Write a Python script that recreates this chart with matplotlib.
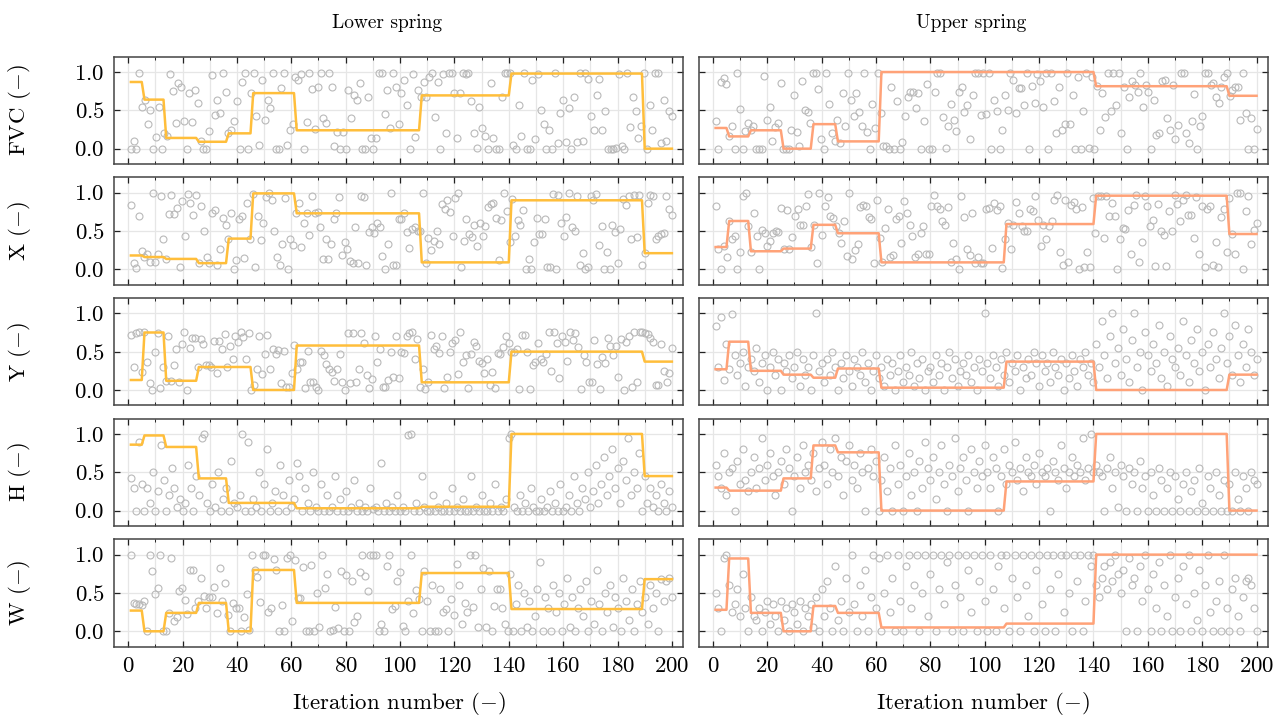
import numpy as np
import matplotlib
matplotlib.use("Agg")
import matplotlib.pyplot as plt
from matplotlib.ticker import MultipleLocator

plt.rcParams['font.family'] = ['cmr10']
plt.rcParams['mathtext.fontset'] = 'cm'
plt.rcParams['axes.unicode_minus'] = False
plt.rcParams['axes.formatter.use_mathtext'] = True

# --> step lines: iterations per segment and level of each segment
seg_len = [5, 8, 12, 11, 9, 16, 46, 33, 49, 11]

rows = ["FVC", "X", "Y", "H", "W"]
cols = ["Lower spring", "Upper spring"]

lvl_fvc_low = [0.87, 0.64, 0.14, 0.09, 0.2, 0.725, 0.24, 0.695, 0.98, 0.0]
lvl_fvc_up = [0.27, 0.16, 0.24, 0.0, 0.32, 0.095, 1.0, 1.0, 0.815, 0.69]
lvl_x_low = [0.18, 0.16, 0.135, 0.08, 0.4, 0.99, 0.73, 0.09, 0.9, 0.21]
lvl_x_up = [0.29, 0.63, 0.235, 0.27, 0.58, 0.47, 0.09, 0.59, 0.96, 0.46]
lvl_y_low = [0.13, 0.75, 0.12, 0.3, 0.3, 0.0, 0.58, 0.1, 0.5, 0.37]
lvl_y_up = [0.27, 0.63, 0.25, 0.2, 0.16, 0.28, 0.03, 0.37, 0.0, 0.2]
lvl_h_low = [0.86, 0.98, 0.83, 0.42, 0.1, 0.1, 0.03, 0.05, 1.0, 0.45]
lvl_h_up = [0.3, 0.26, 0.26, 0.42, 0.85, 0.76, 0.0, 0.38, 1.0, 0.0]
lvl_w_low = [0.27, 0.0, 0.24, 0.37, 0.0, 0.8, 0.37, 0.76, 0.29, 0.68]
lvl_w_up = [0.28, 0.95, 0.24, 0.0, 0.33, 0.24, 0.05, 0.1, 1.0, 1.0]

# --> sampled points (one per iteration, left to right)
pts_fvc_low = [0, 0.1, 0, 0.99, 0.55, 0.63, 0.32, 0.51, 0, 0.15, 0.54, 0, 0.2, 0.16, 0.97, 0.75, 0.33, 0.86, 0.8, 0.36,
               0, 0.73, 0.35, 0.77, 0.6, 0.1, 0, 0, 0.23, 0.96, 0.44, 0.64, 0.47, 0.99, 0.74, 0.2, 0.24, 0.36, 0.62, 0,
               0.87, 0.99, 0, 0.73, 0.99, 0.42, 0.05, 0.9, 0.37, 0.64, 0.53, 0.99, 0, 0, 0.79, 0.99, 0.05, 0.24, 0.32,
               0.94, 0.9, 0.97, 0, 0.35, 0.99, 0.78, 0.26, 0.81, 0.99, 0.4, 0.34, 0.99, 0.8, 0.03, 0.22, 0, 0.22, 0, 0.77,
               0.4, 0.7, 0.64, 0.86, 0, 0, 0.68, 0.14, 0, 0.14, 0.99, 0.99, 0.45, 0.76, 0.27, 0.99, 0.8, 0.32, 0.73, 0.89,
               0.57, 0, 0.97, 0.15, 0.76, 0.67, 0.87, 0.67, 0.94, 0.99, 0.41, 0.87, 0, 0.98, 0.21, 0.99, 0.99, 0.73,
               0.14, 0.73, 0.99, 0.97, 0.99, 0.62, 0.21, 0.01, 0.54, 0.27, 0.17, 0, 0.86, 0.14, 0, 0, 0.67, 0.99, 0.99,
               0.99, 0.05, 0, 0.57, 0.16, 0.99, 0, 0, 0.9, 0.13, 0.97, 0.51, 0.32, 0, 0.25, 0, 0.99, 0.07, 0.47, 0.63,
               0.09, 0.53, 0, 0.68, 0.09, 0.99, 0.1, 0.99, 0.91, 0.43, 0.25, 0.7, 0.91, 0.25, 0.49, 0, 0, 0, 0.01, 0.97,
               0.03, 0, 0.99, 0.28, 0.68, 0.49, 0.14, 0.29, 0.99, 0, 0.57, 0.24, 0.99, 0.99, 0.07, 0.64, 0.1, 0.49, 0.42]
pts_fvc_up = [0.36, 0, 0.87, 0.92, 0.84, 0.16, 0.29, 0, 0.99, 0.52, 0, 0.23, 0.33, 0.25, 0.3, 0, 0, 0, 0.95, 0.38,
              0.55, 0.1, 0.28, 0.33, 0.86, 0, 0, 0, 0.25, 0.7, 0.22, 0.04, 0.88, 0.5, 0.48, 0.33, 0.99, 0.99, 0.78, 0.12,
              0, 0.99, 0.58, 0.2, 0.1, 0.38, 0.08, 0.73, 0.3, 0.99, 0.64, 0.42, 0.73, 0.48, 0.29, 0.99, 0.22, 0, 0.58,
              0.27, 0.99, 0.46, 0.04, 0.04, 0, 0.8, 0, 0.62, 0, 0.09, 0.42, 0.67, 0.74, 0.74, 0.53, 0.73, 0, 0.36, 0.84,
              0, 0, 0.74, 0.99, 0.99, 0.41, 0.01, 0.3, 0.58, 0.38, 0.23, 0.74, 0.8, 0.48, 0.57, 0.13, 0.7, 0.99, 0.99,
              0.44, 0.99, 0.45, 0.99, 0, 0.64, 0.49, 0, 0.25, 0.7, 0.51, 0.99, 0.9, 0.47, 0.79, 0.79, 0.57, 0.99, 0,
              0.82, 0.59, 0.97, 0.88, 0.54, 0.99, 0, 0.99, 0.62, 0.2, 0.81, 0.25, 0.32, 0.99, 0.32, 0.7, 0, 0.93, 0,
              0.49, 0.99, 0.01, 0.93, 0, 0.82, 0.25, 0.73, 0.41, 0.99, 0.49, 0.99, 0.57, 0.99, 0.2, 0.8, 0, 0.68, 0.88,
              0.83, 0.74, 0.99, 0.55, 0.83, 0.74, 0, 0.64, 0.18, 0.21, 0.88, 0.9, 0.4, 0.25, 0.83, 0.13, 0.31, 0.99,
              0.99, 0.2, 0.08, 0.36, 0.71, 0, 0.3, 0.43, 0.99, 0.99, 0.83, 0.86, 0.67, 0.6, 0.8, 0.93, 0.99, 0.69, 0.77,
              0.8, 0.8, 0.38, 0.99, 0.47, 0, 0.4, 0, 0.26]
pts_x_low = [0.84, 0.08, 0.02, 0.7, 0.24, 0.16, 0.2, 0.09, 1.0, 0.09, 0.2, 0.95, 0.4, 0.14, 0.72, 0.97, 0.72, 0.8, 0.03,
             0.89, 0.44, 0.98, 0.86, 0.71, 0.97, 0.08, 0.83, 0.5, 0.16, 0.08, 0.73, 0.77, 0.05, 0.26, 0.67, 0.58, 0.4,
             0.73, 0.0, 0.12, 0.66, 0.7, 0.15, 0.86, 0.39, 0.98, 0.03, 0.7, 0.38, 0.61, 0.94, 1.0, 0.91, 0.5, 0.16, 0.05,
             0.33, 0.93, 0.0, 0.4, 0.32, 0.73, 0.86, 0.29, 0.6, 0.73, 0.45, 0.96, 0.74, 0.75, 0.55, 0.13, 0.39, 0.13,
             0.33, 0.66, 0.73, 0.94, 0.19, 0.36, 0.27, 0.11, 0.08, 0.55, 0.08, 0.96, 0.94, 0.05, 0.48, 0.55, 0.47, 0.61,
             0.55, 0.17, 0.0, 0.33, 1.0, 0.05, 0.05, 0.66, 0.65, 0.73, 0.49, 0.28, 0.53, 0.55, 0.5, 0.5, 1.0, 0.08,
             0.41, 0.25, 0.37, 0.5, 0.33, 0.85, 0.78, 0.91, 0.75, 0.43, 0.93, 1.0, 0.03, 0.37, 0.65, 0.46, 0.42, 0.58,
             0.3, 0.6, 0.44, 0.57, 0.81, 0.85, 0.86, 0.67, 0.12, 0.64, 1.0, 0.76, 0.35, 0.92, 0.43, 0.64, 0.58, 0.77,
             0.0, 0.13, 0.0, 0.36, 0.67, 0.46, 0.46, 0.66, 0.03, 0.03, 0.98, 0.0, 0.97, 0.61, 0.43, 0.68, 1.0, 0.55,
             0.5, 0.96, 0.05, 0.21, 0.0, 0.03, 0.95, 0.9, 0.98, 0.32, 0.57, 0.0, 0.23, 0.0, 0.58, 0.49, 0.08, 0.53, 0.92,
             0.84, 0.95, 0.4, 0.97, 0.42, 0.97, 0.05, 0.21, 0.87, 0.97, 0.95, 0.4, 0.43, 0.46, 0.47, 0.95, 0.79, 0.71]
pts_x_up = [0.83, 0.27, 0.0, 0.31, 0.16, 0.63, 0.39, 0.43, 0.0, 0.23, 0.95, 1.0, 0.57, 0.23, 0.73, 0.43, 0.0, 0.51, 0.47,
            0.3, 0.37, 0.47, 0.5, 0.48, 0.8, 0.27, 0.77, 0.27, 0.42, 0.7, 0.78, 0.58, 0.58, 0.83, 0.98, 0.29, 0.58, 0.08,
            1.0, 0.45, 0.83, 0.94, 0.69, 0.67, 0.56, 0.47, 0.34, 0.63, 0.17, 0.99, 0.14, 0.25, 0.33, 0.81, 0.84, 0.83,
            0.68, 0.66, 0.08, 0.9, 0.41, 0.09, 0.54, 0.79, 0.16, 0.18, 0.65, 0.69, 0.34, 0.89, 0.74, 0.58, 0.43, 0.16,
            0.2, 0.47, 0.56, 0.2, 0.2, 0.83, 0.97, 0.83, 0.78, 0.63, 0.58, 0.81, 0.1, 0.34, 0.14, 0.0, 0.96, 0.68, 0.26,
            0.19, 0.73, 0.08, 0.16, 0.08, 0.08, 0.79, 0.8, 0.28, 0.86, 0.77, 0.83, 0.02, 0.39, 0.6, 0.27, 0.58, 0.88,
            0.73, 0.57, 0.5, 0.5, 0.78, 0.76, 0.96, 0.64, 0.3, 0.58, 0.39, 0.57, 0.63, 0.9, 0.97, 0.23, 0.06, 0.9, 0.1,
            0.84, 0.88, 0.78, 0.0, 0.81, 0.03, 0.22, 0.03, 0.93, 0.47, 0.95, 0.96, 0.41, 0.96, 0.69, 0.87, 0.69, 0.0,
            0.4, 0.54, 0.52, 0.77, 0.2, 0.84, 0.97, 0.1, 0.35, 0.95, 0.83, 0.56, 0.64, 0.04, 0.85, 0.5, 0.45, 0.04,
            0.76, 0.5, 0.97, 0.85, 0.63, 0.9, 0.97, 0.71, 0.71, 0.41, 0.94, 0.2, 0.82, 0.03, 0.79, 0.82, 0.05, 0.35,
            0.03, 0.68, 0.79, 0.23, 0.93, 0.46, 0.2, 1.0, 1.0, 0.0, 0.76, 0.95, 0.33, 0.51, 0.6]
pts_y_low = [0.72, 0.3, 0.74, 0.75, 0.24, 0.75, 0.37, 0.09, 0.0, 0.5, 0.74, 0.03, 0.3, 0.12, 0.7, 0.12, 0.32, 0.53,
             0.11, 0.6, 0.75, 0.0, 0.55, 0.68, 0.68, 0.3, 0.67, 0.6, 0.33, 0.32, 0.3, 0.64, 0.22, 0.64, 0.54, 0.73, 0.3,
             0.58, 0.4, 0.71, 0.63, 0.75, 0.69, 0.4, 0.74, 0.0, 0.07, 0.27, 0.71, 0.21, 0.47, 0.72, 0.28, 0.54, 0.47,
             0.52, 0.09, 0.51, 0.04, 0.04, 0.22, 0.59, 0.27, 0.36, 0.37, 0.02, 0.51, 0.11, 0.11, 0.04, 0.0, 0.51, 0.45,
             0.34, 0.27, 0.23, 0.12, 0.28, 0.47, 0.1, 0.0, 0.74, 0.09, 0.74, 0.11, 0.27, 0.74, 0.61, 0.19, 0.03, 0.14,
             0.7, 0.37, 0.53, 0.04, 0.04, 0.13, 0.5, 0.17, 0.7, 0.15, 0.49, 0.48, 0.71, 0.74, 0.75, 0.4, 0.67, 0.04,
             0.27, 0.01, 0.11, 0.72, 0.54, 0.57, 0.48, 0.71, 0.03, 0.17, 0.5, 0.61, 0.65, 0.21, 0.75, 0.37, 0.46, 0.02,
             0.47, 0.62, 0.57, 0.38, 0.35, 0.22, 0.41, 0.07, 0.23, 0.02, 0.48, 0.47, 0.56, 0.7, 0.61, 0.5, 0.5, 0.53,
             0.01, 0.72, 0.72, 0.49, 0.01, 0.33, 0.37, 0.61, 0.41, 0.37, 0.47, 0.75, 0.25, 0.75, 0.61, 0.15, 0.7, 0.62,
             0.38, 0.75, 0.65, 0.74, 0.56, 0.01, 0.46, 0.37, 0.1, 0.1, 0.65, 0.34, 0.01, 0.43, 0.35, 0.68, 0.57, 0.46,
             0.57, 0.17, 0.67, 0.0, 0.63, 0.71, 0.04, 0.75, 0.11, 0.75, 0.75, 0.74, 0.73, 0.68, 0.62, 0.06, 0.07, 0.6,
             0.25, 0.1, 0.22, 0.55]
pts_y_up = [0.84, 0.3, 0.95, 0.13, 0.6, 0.27, 0.99, 0.45, 0.2, 0.35, 0.5, 0.05, 0.3, 0.4, 0.25, 0.55, 0.1, 0.35, 0.45, 0.0,
            0.3, 0.5, 0.2, 0.4, 0.0, 0.35, 0.25, 0.45, 0.15, 0.3, 0.5, 0.05, 0.4, 0.2, 0.3, 0.0, 0.45, 1.0, 0.25, 0.35,
            0.1, 0.4, 0.2, 0.5, 0.3, 0.0, 0.35, 0.15, 0.45, 0.25, 0.05, 0.4, 0.3, 0.2, 0.5, 0.1, 0.35, 0.0, 0.25, 0.45,
            0.15, 0.3, 0.05, 0.4, 0.2, 0.35, 0.0, 0.25, 0.45, 0.1, 0.3, 0.2, 0.5, 0.05, 0.35, 0.15, 0.4, 0.0, 0.25, 0.3,
            0.1, 0.45, 0.2, 0.35, 0.0, 0.3, 0.5, 0.15, 0.4, 0.05, 0.25, 0.35, 0.2, 0.45, 0.1, 0.3, 0.0, 0.4, 0.25, 1.0,
            0.35, 0.15, 0.45, 0.3, 0.05, 0.4, 0.2, 0.5, 0.1, 0.35, 0.25, 0.45, 0.0, 0.3, 0.15, 0.4, 0.2, 0.5, 0.35, 0.05,
            0.45, 0.25, 0.35, 0.1, 0.5, 0.3, 0.2, 0.4, 0.0, 0.35, 0.15, 0.45, 0.25, 0.05, 0.4, 0.3, 0.5, 0.2, 0.35, 0.1,
            0.6, 0.3, 0.9, 0.45, 0.15, 0.7, 1.0, 0.35, 0.55, 0.2, 0.8, 0.4, 0.1, 0.65, 1.0, 0.3, 0.5, 0.0, 0.75, 0.45,
            0.25, 0.6, 0.35, 0.85, 0.15, 0.5, 0.05, 0.7, 0.4, 0.3, 0.55, 0.2, 0.9, 0.45, 0.1, 0.65, 0.35, 0.8, 0.25, 0.5,
            0.0, 0.6, 0.3, 0.75, 0.4, 0.15, 0.55, 1.0, 0.35, 0.7, 0.2, 0.85, 0.45, 0.1, 0.6, 0.3, 0.8, 0.5, 0.2, 0.4]
pts_h_low = [0.43, 0.3, 0.0, 0.9, 0.35, 0.0, 0.3, 0.1, 0.5, 0.0, 0.25, 0.85, 0.4, 0.0, 0.2, 0.55, 0.3, 0.05, 0.15, 0.0,
             0.1, 0.6, 0.3, 0.0, 0.45, 0.2, 0.95, 1.0, 0.1, 0.0, 0.35, 0.05, 0.5, 0.0, 0.15, 0.3, 0.0, 0.65, 0.1, 0.05,
             0.2, 1.0, 0.0, 0.9, 0.0, 0.15, 0.05, 0.5, 0.0, 0.35, 0.8, 0.0, 0.1, 0.25, 0.0, 0.6, 0.2, 0.0, 0.4, 0.05,
             0.15, 0.62, 0.45, 0.0, 0.3, 0.1, 0.0, 0.5, 0.05, 0.0, 0.35, 0.0, 0.2, 0.0, 0.05, 0.45, 0.0, 0.15, 0.0, 0.25,
             0.0, 0.05, 0.4, 0.0, 0.1, 0.0, 0.05, 0.0, 0.3, 0.02, 0.05, 0.0, 0.62, 0.0, 0.1, 0.0, 0.05, 0.0, 0.2, 0.0,
             0.05, 0.0, 0.98, 1.0, 0.0, 0.1, 0.0, 0.45, 0.05, 0.0, 0.0, 0.2, 0.0, 0.05, 0.0, 0.0, 0.1, 0.0, 0.3, 0.0,
             0.05, 0.0, 0.15, 0.0, 0.0, 0.45, 0.0, 0.05, 0.0, 0.2, 0.0, 0.0, 0.1, 0.0, 0.35, 0.0, 0.05, 0.0, 0.15, 0.95,
             1.0, 0.05, 0.0, 0.2, 0.0, 0.1, 0.0, 0.3, 0.05, 0.0, 0.0, 0.15, 0.0, 0.05, 0.25, 0.0, 0.1, 0.0, 0.35, 0.0,
             0.05, 0.2, 0.0, 0.45, 0.1, 0.0, 0.3, 0.15, 0.5, 0.05, 0.25, 0.6, 0.1, 0.35, 0.7, 0.2, 0.45, 0.8, 0.3, 0.55,
             0.1, 0.65, 0.4, 0.95, 0.2, 0.5, 0.3, 0.75, 0.0, 0.45, 0.1, 0.3, 0.05, 0.2, 0.0, 0.35, 0.1, 0.0, 0.25, 0.05]
pts_h_up = [0.6, 0.45, 0.3, 0.75, 0.2, 0.5, 0.55, 0.0, 0.65, 0.35, 0.8, 0.4, 0.25, 0.5, 0.7, 0.3, 0.55, 0.95, 0.4, 0.6,
            0.75, 0.45, 0.2, 0.5, 0.65, 0.35, 0.8, 0.55, 0.0, 0.45, 0.7, 0.3, 0.85, 0.5, 0.6, 0.4, 0.75, 0.25, 0.55, 0.9,
            0.6, 0.35, 0.8, 0.5, 0.95, 0.45, 0.7, 0.2, 0.65, 0.85, 0.4, 0.6, 0.3, 0.75, 0.5, 0.0, 0.55, 0.8, 0.45, 0.65,
            0.0, 0.4, 0.7, 0.25, 0.55, 0.0, 0.85, 0.35, 0.6, 0.0, 0.45, 0.75, 0.2, 0.5, 0.0, 0.65, 0.3, 0.9, 0.55, 0.4,
            0.7, 0.15, 0.5, 0.85, 0.35, 0.0, 0.6, 0.45, 0.95, 0.25, 0.55, 0.7, 0.4, 0.0, 0.8, 0.5, 0.3, 0.65, 0.45, 0.85,
            0.5, 0.3, 0.7, 0.55, 0.0, 0.45, 0.8, 0.35, 0.6, 0.5, 0.9, 0.4, 0.55, 0.25, 0.7, 0.5, 0.45, 0.6, 0.35, 0.75,
            0.5, 0.45, 0.55, 0.0, 0.65, 0.5, 0.4, 0.85, 0.55, 0.3, 0.5, 0.7, 0.45, 0.6, 0.5, 0.95, 0.4, 0.55, 1.0, 0.5,
            0.6, 0.5, 0.45, 0.0, 0.55, 0.7, 0.3, 0.5, 0.05, 0.6, 0.45, 0.0, 0.55, 0.35, 0.5, 0.0, 0.65, 0.3, 0.45, 0.0,
            0.5, 0.2, 0.0, 0.55, 0.4, 0.0, 0.3, 0.5, 0.0, 0.45, 0.15, 0.0, 0.35, 0.5, 0.0, 0.25, 0.4, 0.0, 0.55, 0.1,
            0.0, 0.45, 0.3, 0.0, 0.5, 0.2, 0.0, 0.4, 0.0, 0.35, 0.0, 0.5, 0.15, 0.0, 0.45, 0.3, 0.0, 0.5, 0.4, 0.35]
pts_w_low = [1.0, 0.37, 0.36, 0.35, 0.34, 0.39, 0.0, 1.0, 0.78, 0.49, 0.57, 1.0, 0.0, 0.0, 0.24, 0.96, 0.14, 0.18,
             0.52, 0.57, 0.41, 0.22, 0.8, 0.8, 0.31, 0.39, 0.69, 0.46, 0.3, 0.45, 0.45, 0.58, 0.24, 0.82, 0.39,
             0.63, 0.21, 0.0, 0.37, 0.3, 0.3, 0.0, 0.19, 0.49, 0.02, 1.0, 0.8, 0.71, 0.38, 1.0, 1.0, 0.25, 0.3,
             0.94, 0.8, 0.0, 0.34, 0.0, 0.95, 0.99, 0.14, 0.93, 0.44, 0.43, 0.84, 0.0, 0.0, 0.86, 0.0, 0.5, 0.06,
             1.0, 0.56, 0.75, 0.0, 0.02, 0.32, 0.04, 0.78, 0.0, 0.73, 0.0, 0.66, 0.12, 0.2, 0.77, 1.0, 0.72, 0.53,
             1.0, 1.0, 1.0, 0.0, 0.1, 0.0, 0.85, 1.0, 0.29, 0.33, 0.65, 0.77, 0.07, 0.0, 0.39, 1.0, 0.24, 0.54,
             0.42, 0.0, 0.78, 0.4, 0.0, 0.61, 0.0, 0.0, 0.55, 0.25, 0.29, 0.01, 0.42, 0.21, 0.88, 0.61, 0.09, 0.37,
             0.25, 0.99, 0.32, 1.0, 0.06, 0.55, 0.83, 0.06, 0.79, 0.0, 0.33, 0.55,
             0.55, 0.3, 0.1, 0.0, 0.75, 0.0, 0.35, 0.6, 0.0, 0.5, 0.05, 0.4, 0.0, 0.2, 0.55, 0.9, 0.0, 0.45, 0.3, 0.0,
             0.6, 0.25, 0.5, 0.0, 0.35, 0.7, 0.05, 0.45, 0.0, 0.3, 0.55, 0.2, 0.65, 0.0, 0.4, 0.1, 0.8, 0.35, 0.0, 0.5,
             0.25, 0.6, 0.05, 0.45, 0.3, 0.0, 0.7, 0.4, 0.15, 0.55, 0.0, 0.35, 0.65, 0.25, 0.45, 0.1, 0.6, 0.3, 0.5, 0.0,
             0.68, 0.4, 0.65, 0.7, 0.45]
pts_w_up = [0.5, 0.3, 0.0, 0.95, 1.0, 0.6, 0.25, 0.35, 0.55, 0.2, 0.75, 0.3, 0.0, 0.45, 0.2, 0.15, 0.3, 0.0, 0.25, 0.4,
            0.1, 0.35, 0.2, 0.0, 0.4, 0.15, 0.3, 0.0, 0.35, 0.25, 0.1, 0.4, 0.0, 0.3, 0.2, 0.35, 0.05, 0.45, 0.0, 0.55,
            0.2, 0.65, 0.3, 0.0, 0.85, 0.15, 0.4, 0.0, 0.7, 0.25, 1.0, 0.35, 0.0, 0.6, 0.2, 0.8, 0.0, 0.45, 1.0, 0.3,
            0.95, 0.0, 0.5, 1.0, 0.25, 0.7, 0.0, 1.0, 0.4, 0.0, 0.85, 1.0, 0.3, 0.6, 1.0, 0.0, 0.5, 1.0, 0.2, 0.75,
            1.0, 0.0, 0.55, 1.0, 0.35, 0.9, 1.0, 0.0, 0.6, 1.0, 0.45, 0.0, 1.0, 0.8, 0.25, 1.0, 0.0, 0.65, 1.0, 0.4,
            0.0, 1.0, 0.55, 0.0, 0.85, 1.0, 0.3, 1.0, 0.0, 0.7, 1.0, 0.45, 0.0, 1.0, 0.6, 0.2, 1.0, 0.0, 0.8, 1.0,
            0.35, 0.0, 1.0, 0.55, 1.0, 0.0, 0.75, 1.0, 0.25, 1.0, 0.5, 0.0, 1.0, 0.65, 1.0, 0.0, 0.4, 1.0, 0.85, 1.0,
            0.6, 0.45, 0.7, 0.85, 0.55, 0.9, 0.65, 1.0, 0.75, 0.5, 0.8, 0.0, 0.95, 0.6, 0.7, 0.0, 0.85, 0.4, 1.0, 0.55,
            0.0, 0.75, 0.3, 0.9, 0.0, 0.6, 0.2, 1.0, 0.0, 0.45, 0.7, 0.0, 0.85, 0.35, 1.0, 0.0, 0.5, 0.15, 0.8, 0.0,
            0.6, 1.0, 0.25, 0.0, 0.4, 0.65, 0.0, 1.0, 0.3, 0.0, 0.55, 0.7, 0.2, 0.0, 0.45, 0.65, 0.7, 0.6, 0.3, 0.0]

levels = {("FVC", 0): lvl_fvc_low, ("FVC", 1): lvl_fvc_up,
          ("X", 0): lvl_x_low, ("X", 1): lvl_x_up,
          ("Y", 0): lvl_y_low, ("Y", 1): lvl_y_up,
          ("H", 0): lvl_h_low, ("H", 1): lvl_h_up,
          ("W", 0): lvl_w_low, ("W", 1): lvl_w_up}
points = {("FVC", 0): pts_fvc_low, ("FVC", 1): pts_fvc_up,
          ("X", 0): pts_x_low, ("X", 1): pts_x_up,
          ("Y", 0): pts_y_low, ("Y", 1): pts_y_up,
          ("H", 0): pts_h_low, ("H", 1): pts_h_up,
          ("W", 0): pts_w_low, ("W", 1): pts_w_up}

line_colors = ["#FFBE3B", "#FFA278"]
W, H = 1282, 718
col_left = [114.3, 699.0]
ax_w = 569.0
row_top = [56.7, 177.3, 298.0, 418.6, 539.3]
ax_h = 107.3

fig = plt.figure(figsize=(W / 100, H / 100), dpi=100)
it = np.arange(1, sum(seg_len) + 1)

for r, name in enumerate(rows):
    for c in range(2):
        ax = fig.add_axes([col_left[c] / W, 1 - (row_top[r] + ax_h) / H, ax_w / W, ax_h / H])
        vals = points[(name, c)]
        ax.plot(np.linspace(1, 200, len(vals)), vals, 'o', ms=5.0, mfc='none', mec='#b9b9b9', mew=0.8, zorder=2)
        ax.plot(it, np.repeat(levels[(name, c)], seg_len), color=line_colors[c], lw=1.8, zorder=3)

        ax.set_xlim(-5.1, 204.2)
        ax.set_ylim(-0.2, 1.2)
        ax.xaxis.set_major_locator(MultipleLocator(20))
        ax.xaxis.set_minor_locator(MultipleLocator(10))
        ax.yaxis.set_major_locator(MultipleLocator(0.5))
        ax.grid(True, which='both', axis='x', color='#e6e6e6', lw=0.9, zorder=0)
        ax.grid(True, which='major', axis='y', color='#e6e6e6', lw=0.9, zorder=0)
        ax.set_axisbelow(True)
        ax.tick_params(which='both', direction='in', top=True, right=True, color='#222222', labelsize=16.5)
        ax.tick_params(which='major', length=4.5, width=0.9, pad=7)
        ax.tick_params(which='minor', length=2.5, width=0.7)
        for s in ax.spines.values():
            s.set_color('#444444')
            s.set_linewidth(1.1)
        if r < len(rows) - 1:
            ax.tick_params(labelbottom=False)
        else:
            ax.set_xlabel(r"Iteration number ($-$)", fontsize=16.5, labelpad=10)
        if c == 1:
            ax.tick_params(labelleft=False)
        else:
            ax.set_ylabel(name + r" ($-$)", fontsize=16.5)
            ax.yaxis.set_label_coords(-0.143, 0.5)
        if r == 0:
            ax.set_title(cols[c], fontsize=14, pad=21, x=0.5 - 12 / ax_w)

fig.savefig("out.png", dpi=100)
